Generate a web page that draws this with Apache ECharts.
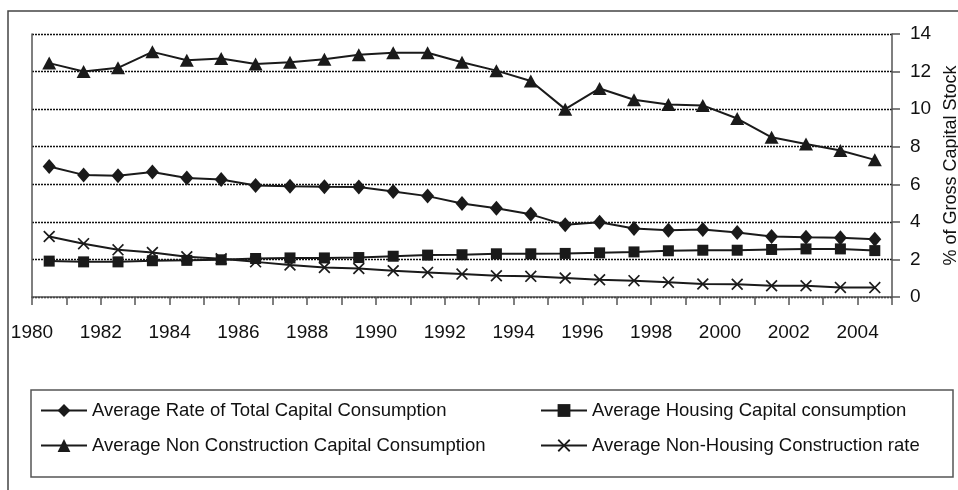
<!DOCTYPE html>
<html lang="en">
<head>
    <meta charset="UTF-8">
    <title>Capital consumption</title>
    <script src="https://cdn.jsdelivr.net/npm/echarts@6/dist/echarts.min.js"></script>
</head>
<body style="margin:0;background:#fff">
<div id="box" style="width: 958px;height: 490px;"></div>
<script>
    var years = ['1980','1981','1982','1983','1984','1985','1986','1987','1988','1989','1990','1991','1992',
        '1993','1994','1995','1996','1997','1998','1999','2000','2001','2002','2003','2004'];
    var totalRate = [6.95,6.5,6.45,6.65,6.33,6.26,5.94,5.9,5.87,5.85,5.62,5.37,4.98,
        4.72,4.4,3.84,3.98,3.65,3.55,3.59,3.43,3.22,3.18,3.15,3.08];
    var housingRate = [1.91,1.87,1.87,1.93,1.95,1.98,2.05,2.08,2.08,2.1,2.17,2.23,2.25,
        2.3,2.3,2.32,2.35,2.4,2.46,2.49,2.49,2.53,2.56,2.56,2.47];
    var nonConstrRate = [12.45,12.0,12.2,13.05,12.6,12.7,12.4,12.5,12.65,12.9,13.0,13.0,12.5,
        12.05,11.5,10.0,11.1,10.5,10.25,10.2,9.5,8.5,8.15,7.8,7.3];
    var nonHousingRate = [3.22,2.84,2.51,2.37,2.14,2.03,1.87,1.7,1.57,1.52,1.4,1.31,1.22,
        1.13,1.1,1.01,0.92,0.87,0.78,0.69,0.68,0.6,0.6,0.51,0.5];
    var names = ['Average Rate of Total Capital Consumption','Average Housing Capital consumption',
        'Average Non Construction Capital Consumption','Average Non-Housing Construction rate'];

    var font = 'Liberation Sans, Arial, sans-serif';
    var ink = '#1a1a1a';
    // X marker drawn as a filled outline so it renders as two crossing strokes
    var cross = 'path://M0,1L1,0L5,4L9,0L10,1L6,5L10,9L9,10L5,6L1,10L0,9L4,5Z';

    function line(name, data, symbol, size) {
        return {
            name: name, type: 'line', data: data, xAxisIndex: 0, yAxisIndex: 0,
            symbol: symbol, symbolSize: size, showAllSymbol: true,
            lineStyle: {color: ink, width: 2},
            itemStyle: {color: ink},
            emphasis: {disabled: true}
        };
    }

    var chart = echarts.init(document.getElementById('box'));
    var legendText = {fontFamily: font, fontSize: 18.5, color: '#111'};
    chart.setOption({
        animation: false,
        backgroundColor: '#fff',
        textStyle: {fontFamily: font},
        grid: {left: 32, right: 66, top: 34, bottom: 193, containLabel: false, outerBoundsMode: 'none'},
        graphic: [
            {type: 'rect', shape: {x: 8, y: 11, width: 1000, height: 600}, silent: true,
                style: {fill: 'none', stroke: '#444', lineWidth: 1.5}},
            {type: 'rect', shape: {x: 31, y: 390, width: 922, height: 87}, silent: true,
                style: {fill: 'none', stroke: '#555', lineWidth: 1.5}}
        ],
        legend: [
            {data: [names[0], names[2]], orient: 'vertical', left: 40, top: 401, padding: 0,
                itemWidth: 46, itemHeight: 16, itemGap: 16, textStyle: legendText, selectedMode: false},
            {data: [names[1], names[3]], orient: 'vertical', left: 540, top: 401, padding: 0,
                itemWidth: 46, itemHeight: 16, itemGap: 16, textStyle: legendText, selectedMode: false}
        ],
        xAxis: [
            {type: 'category', data: years, boundaryGap: true, position: 'top', show: false},
            {type: 'value', position: 'bottom', min: +years[0], max: +years[years.length - 1] + 1, interval: 1,
                axisLine: {lineStyle: {color: '#555', width: 1.5}},
                axisTick: {show: true, length: 8, lineStyle: {color: '#555', width: 1.5}},
                splitLine: {show: false},
                axisLabel: {color: '#111', fontSize: 19, margin: 26, showMaxLabel: true,
                    formatter: function (v) { return v % 2 === 0 ? String(v) : ''; }}}
        ],
        yAxis: [
            {type: 'value', position: 'right', min: 0, max: 14, interval: 2,
                name: '% of Gross Capital Stock', nameLocation: 'middle', nameRotate: 90, nameGap: 40,
                nameTextStyle: {fontSize: 18, color: '#111'},
                axisLine: {show: true, lineStyle: {color: '#555', width: 1.5}},
                axisTick: {show: true, length: 8, lineStyle: {color: '#555', width: 1.5}},
                axisLabel: {color: '#111', fontSize: 19, margin: 18},
                splitLine: {show: true, lineStyle: {color: '#111', type: [2, 1], width: 1.3}}},
            {type: 'value', position: 'left', min: 0, max: 14,
                axisLine: {show: true, lineStyle: {color: '#555', width: 1.5}},
                axisTick: {show: false}, axisLabel: {show: false}, splitLine: {show: false}}
        ],
        series: [
            line(names[0], totalRate, 'diamond', [13, 15]),
            line(names[1], housingRate, 'rect', 11),
            line(names[2], nonConstrRate, 'triangle', [14, 13]),
            line(names[3], nonHousingRate, cross, 12)
        ]
    });
</script>
</body>
</html>
